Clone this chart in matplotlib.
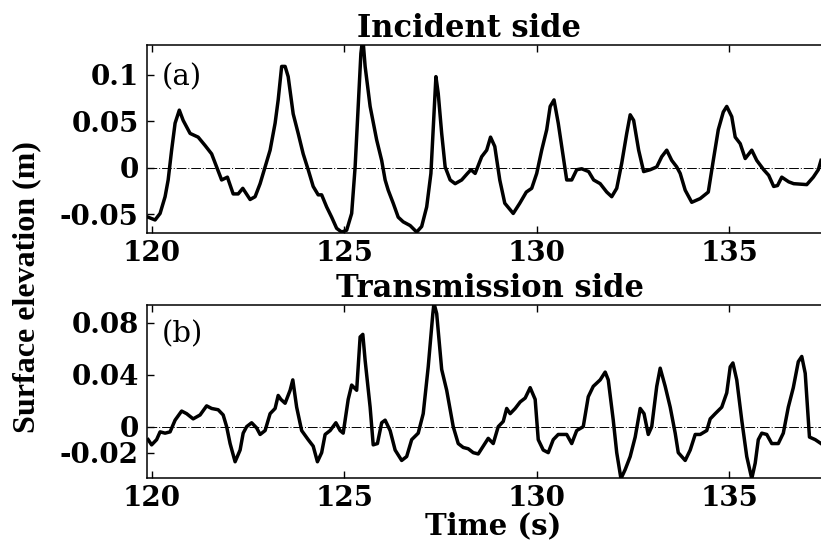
import matplotlib
matplotlib.use("Agg")
import matplotlib.pyplot as plt

plt.rcParams['axes.unicode_minus'] = False

# surface elevation record, incident side (s, m)
t_inc = [119.90, 120.08, 120.21, 120.34, 120.42, 120.51, 120.60, 120.71, 120.81, 120.99,
         121.20, 121.38, 121.55, 121.68, 121.81, 121.96, 122.11, 122.24, 122.36, 122.55,
         122.68, 122.81, 122.94, 123.07, 123.20, 123.28, 123.37, 123.46, 123.54, 123.67,
         123.80, 123.93, 124.06, 124.19, 124.32, 124.41, 124.54, 124.67, 124.80, 124.93,
         125.06, 125.19, 125.28, 125.36, 125.43, 125.48, 125.54, 125.67, 125.84, 125.97,
         126.06, 126.14, 126.27, 126.40, 126.53, 126.71, 126.88, 127.01, 127.14, 127.25,
         127.33, 127.38, 127.44, 127.53, 127.62, 127.75, 127.88, 128.05, 128.20, 128.29,
         128.40, 128.57, 128.70, 128.80, 128.91, 129.04, 129.17, 129.39, 129.56, 129.73,
         129.87, 130.00, 130.13, 130.26, 130.35, 130.45, 130.56, 130.69, 130.78, 130.91,
         131.04, 131.17, 131.35, 131.48, 131.65, 131.82, 131.95, 132.08, 132.21, 132.34,
         132.43, 132.52, 132.65, 132.78, 132.95, 133.12, 133.25, 133.38, 133.51, 133.64,
         133.73, 133.86, 134.03, 134.25, 134.46, 134.59, 134.72, 134.85, 134.94, 135.07,
         135.16, 135.29, 135.42, 135.59, 135.72, 135.90, 136.03, 136.16, 136.26, 136.37,
         136.55, 136.68, 137.02, 137.19, 137.32, 137.39]
eta_inc = [-0.053, -0.056, -0.049, -0.031, -0.013, 0.019, 0.048, 0.062, 0.051, 0.037,
           0.033, 0.024, 0.015, 0.001, -0.013, -0.010, -0.028, -0.028, -0.022, -0.034,
           -0.031, -0.017, 0.001, 0.019, 0.048, 0.073, 0.109, 0.109, 0.098, 0.058,
           0.037, 0.015, -0.002, -0.020, -0.029, -0.029, -0.042, -0.053, -0.065, -0.069,
           -0.067, -0.049, 0.001, 0.066, 0.123, 0.140, 0.109, 0.066, 0.030, 0.008,
           -0.013, -0.024, -0.038, -0.053, -0.058, -0.062, -0.069, -0.063, -0.042, -0.006,
           0.058, 0.098, 0.080, 0.037, 0.001, -0.013, -0.017, -0.013, -0.006, -0.002,
           -0.006, 0.012, 0.019, 0.033, 0.023, -0.013, -0.038, -0.049, -0.038, -0.026,
           -0.022, -0.006, 0.019, 0.041, 0.066, 0.073, 0.048, 0.012, -0.013, -0.013,
           -0.002, -0.001, -0.004, -0.013, -0.017, -0.026, -0.031, -0.022, 0.005, 0.037,
           0.057, 0.051, 0.019, -0.004, -0.002, 0.001, 0.012, 0.019, 0.008, 0.001,
           -0.006, -0.024, -0.037, -0.033, -0.026, 0.008, 0.041, 0.060, 0.066, 0.055,
           0.033, 0.026, 0.010, 0.019, 0.008, -0.002, -0.008, -0.020, -0.019, -0.010,
           -0.015, -0.017, -0.018, -0.010, -0.002, 0.008]

# surface elevation record, transmission side (s, m)
t_tra = [119.90, 119.99, 120.12, 120.21, 120.34, 120.47, 120.60, 120.77, 120.90, 121.07,
         121.25, 121.42, 121.55, 121.72, 121.85, 121.94, 122.03, 122.16, 122.29, 122.37,
         122.46, 122.59, 122.72, 122.81, 122.94, 123.07, 123.20, 123.28, 123.35, 123.46,
         123.59, 123.66, 123.76, 123.89, 124.06, 124.19, 124.30, 124.41, 124.50, 124.63,
         124.78, 124.89, 124.97, 125.10, 125.19, 125.32, 125.41, 125.48, 125.54, 125.67,
         125.75, 125.86, 125.97, 126.06, 126.19, 126.32, 126.49, 126.62, 126.75, 126.92,
         127.05, 127.18, 127.30, 127.33, 127.40, 127.53, 127.66, 127.83, 127.96, 128.09,
         128.22, 128.35, 128.48, 128.61, 128.74, 128.87, 129.00, 129.13, 129.22, 129.31,
         129.44, 129.57, 129.70, 129.83, 129.96, 130.04, 130.17, 130.30, 130.43, 130.56,
         130.78, 130.91, 131.04, 131.21, 131.34, 131.47, 131.65, 131.78, 131.86, 131.99,
         132.08, 132.19, 132.30, 132.43, 132.56, 132.69, 132.79, 132.90, 132.99, 133.12,
         133.21, 133.34, 133.47, 133.60, 133.68, 133.86, 133.99, 134.12, 134.25, 134.42,
         134.51, 134.64, 134.81, 134.94, 135.03, 135.10, 135.20, 135.33, 135.46, 135.59,
         135.68, 135.76, 135.85, 135.98, 136.11, 136.28, 136.41, 136.54, 136.67, 136.80,
         136.89, 136.98, 137.09, 137.24, 137.39]
eta_tra = [-0.010, -0.014, -0.010, -0.004, -0.005, -0.004, 0.005, 0.012, 0.010, 0.006,
           0.009, 0.016, 0.014, 0.013, 0.009, 0.000, -0.013, -0.027, -0.018, -0.005,
           0.000, 0.003, -0.001, -0.006, -0.003, 0.010, 0.014, 0.024, 0.021, 0.018,
           0.028, 0.036, 0.015, -0.003, -0.010, -0.015, -0.027, -0.020, -0.006, -0.003,
           0.003, -0.003, -0.005, 0.021, 0.032, 0.028, 0.069, 0.071, 0.051, 0.015,
           -0.014, -0.013, 0.003, 0.005, -0.003, -0.018, -0.026, -0.023, -0.010, -0.005,
           0.010, 0.046, 0.087, 0.095, 0.087, 0.044, 0.028, 0.000, -0.013, -0.016,
           -0.017, -0.020, -0.021, -0.015, -0.009, -0.013, 0.000, 0.004, 0.014, 0.010,
           0.014, 0.019, 0.022, 0.030, 0.021, -0.010, -0.018, -0.020, -0.010, -0.006,
           -0.006, -0.013, -0.003, 0.000, 0.023, 0.031, 0.036, 0.042, 0.036, 0.005,
           -0.020, -0.040, -0.033, -0.023, -0.008, 0.014, 0.010, -0.006, 0.000, 0.031,
           0.045, 0.031, 0.015, -0.005, -0.020, -0.026, -0.018, -0.006, -0.006, -0.003,
           0.006, 0.010, 0.015, 0.026, 0.046, 0.049, 0.036, 0.005, -0.023, -0.040,
           -0.028, -0.010, -0.005, -0.006, -0.013, -0.013, -0.005, 0.015, 0.030, 0.050,
           0.054, 0.041, -0.008, -0.010, -0.013]

xticks = [120, 125, 130, 135]
yticks_inc = [-0.05, 0, 0.05, 0.1]
ylabels_inc = ['-0.05', '0', '0.05', '0.1']
yticks_tra = [-0.02, 0, 0.04, 0.08]
ylabels_tra = ['-0.02', '0', '0.04', '0.08']

W, H = 821, 548
tick_font = dict(family='DejaVu Serif', weight='bold', size=20)
title_font = dict(family='DejaVu Serif', weight='bold', size=22)

fig = plt.figure(figsize=(W / 100, H / 100), dpi=100)
ax1 = fig.add_axes([147 / W, 1 - 233 / H, (W - 147) / W, (233 - 45) / H])
ax2 = fig.add_axes([147 / W, 1 - 478 / H, (W - 147) / W, (478 - 305) / H])


def style(ax, yt, yl, ylim, tag):
    ax.axhline(0, color='black', lw=0.7, ls=(0, (10, 2, 1, 2)), zorder=1)
    ax.set_xlim(119.87, 137.39)
    ax.set_ylim(*ylim)
    ax.set_xticks(xticks)
    ax.set_xticklabels([str(v) for v in xticks], fontdict=tick_font)
    ax.set_yticks(yt)
    ax.set_yticklabels(yl, fontdict=tick_font)
    ax.tick_params(direction='in', top=True, right=False, length=5, width=1.0)
    ax.tick_params(axis='x', pad=5)
    ax.tick_params(axis='y', pad=6)
    ax.spines['right'].set_visible(False)
    for s in ('left', 'top', 'bottom'):
        ax.spines[s].set_linewidth(1.1)
    ax.text(0.022, 0.83, tag, transform=ax.transAxes, family='DejaVu Serif',
            size=21, va='center', ha='left')


ax1.plot(t_inc, eta_inc, color='black', lw=2.5, solid_joinstyle='round', zorder=3)
style(ax1, yticks_inc, ylabels_inc, (-0.07, 0.132), '(a)')

ax2.plot(t_tra, eta_tra, color='black', lw=2.5, solid_joinstyle='round', zorder=3)
style(ax2, yticks_tra, ylabels_tra, (-0.0395, 0.0936), '(b)')

fig.text(469 / W, 1 - 37 / H, 'Incident side', ha='center', va='baseline', **title_font)
fig.text(490 / W, 1 - 297 / H, 'Transmission side', ha='center', va='baseline', **title_font)
fig.text(493 / W, 1 - 534 / H, 'Time (s)', ha='center', va='baseline',
         family='DejaVu Serif', weight='bold', size=21)
fig.text(27 / W, 1 - 287 / H, 'Surface elevation (m)', rotation=90, ha='center',
         va='center', family='Liberation Serif', weight='bold', size=23)

fig.savefig('out.png', dpi=100)
